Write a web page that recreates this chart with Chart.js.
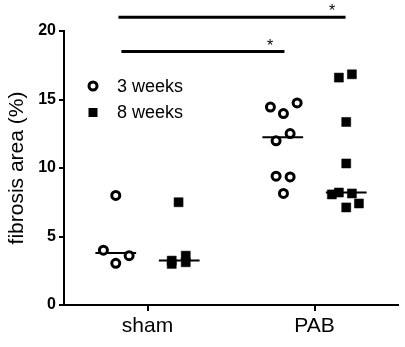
<!DOCTYPE html>
<html>
<head>
<meta charset="utf-8">
<script src="https://cdn.jsdelivr.net/npm/chart.js@4"></script>
<style>
  html, body { margin: 0; padding: 0; background: #fff; }
  #wrap { width: 405px; height: 347px; }
</style>
</head>
<body>
<div id="wrap"><canvas id="chart"></canvas></div>
<script>
// groups on the x axis
const categories = ['sham', 'PAB'];
const seriesNames = ['3 weeks', '8 weeks'];
const yTicks = [0, 5, 10, 15, 20];

// fibrosis area (%) per animal
const sham3w = [8.0, 4.0, 3.04, 3.6];
const sham8w = [7.5, 3.24, 3.0, 3.6, 3.12];
const pab3w = [14.45, 13.97, 14.75, 12.51, 11.98, 9.4, 9.35, 8.14];
const pab8w = [16.6, 16.84, 13.36, 10.33, 8.07, 8.21, 8.14, 7.12, 7.41];

// horizontal scatter of each point around its group (category units)
const sham3wJitter = [-0.19, -0.264, -0.19, -0.11];
const sham8wJitter = [0.186, 0.145, 0.145, 0.229, 0.229];
const pab3wJitter = [-0.264, -0.186, -0.104, -0.146, -0.23, -0.23, -0.146, -0.186];
const pab8wJitter = [0.146, 0.224, 0.19, 0.19, 0.104, 0.146, 0.224, 0.19, 0.266];

// significance brackets
const sigFrom = [0.826, 0.844];
const sigTo = [2.186, 1.82];
const sigLevel = [21.0, 18.5];
const sigStarX = [2.106, 1.734];
const sigText = ['*', '*'];

const groupShift = [-0.19, 0.19];
const medianHalf = 0.122;

function median(arr) {
  const s = arr.slice().sort((a, b) => a - b);
  const m = Math.floor(s.length / 2);
  return s.length % 2 ? s[m] : (s[m - 1] + s[m]) / 2;
}
function toPoints(values, jitter, cat) {
  return values.map((v, i) => ({ x: cat + 1 + jitter[i], y: v }));
}
function medianLine(values, cat, s) {
  const m = median(values);
  const c = cat + 1 + groupShift[s];
  return [{ x: c - medianHalf, y: m }, { x: c + medianHalf, y: m }];
}

const circleStyle = {
  pointStyle: 'circle', pointRadius: 4, pointBorderWidth: 3,
  pointBackgroundColor: '#fff', pointBorderColor: '#000',
  showLine: false, order: 0
};
const squareStyle = {
  pointStyle: 'rect', pointRadius: 6.4, pointBorderWidth: 0.5,
  pointBackgroundColor: '#000', pointBorderColor: '#000',
  showLine: false, order: 0
};
const lineStyle = {
  showLine: true, borderColor: '#000', borderWidth: 2, pointRadius: 0,
  order: 1, clip: false
};

const datasets = [
  Object.assign({ label: seriesNames[0], data: toPoints(sham3w, sham3wJitter, 0).concat(toPoints(pab3w, pab3wJitter, 1)) }, circleStyle),
  Object.assign({ label: seriesNames[1], data: toPoints(sham8w, sham8wJitter, 0).concat(toPoints(pab8w, pab8wJitter, 1)) }, squareStyle),
  Object.assign({ label: 'm1', data: medianLine(sham3w, 0, 0) }, lineStyle),
  Object.assign({ label: 'm2', data: medianLine(sham8w, 0, 1) }, lineStyle),
  Object.assign({ label: 'm3', data: medianLine(pab3w, 1, 0) }, lineStyle),
  Object.assign({ label: 'm4', data: medianLine(pab8w, 1, 1) }, lineStyle)
];
sigFrom.forEach((f, i) => {
  datasets.push(Object.assign({ label: 'sig' + i, data: [{ x: f, y: sigLevel[i] }, { x: sigTo[i], y: sigLevel[i] }] },
    lineStyle, { borderWidth: 3 }));
});

// stars above the brackets + legend drawn inside the plot
const extras = {
  id: 'extras',
  afterDatasetsDraw(chart) {
    const ctx = chart.ctx;
    const xs = chart.scales.x, ys = chart.scales.y;
    ctx.save();
    ctx.fillStyle = '#000';
    ctx.font = '16px "Liberation Sans", Arial, sans-serif';
    ctx.textAlign = 'center';
    ctx.textBaseline = 'alphabetic';
    sigText.forEach((t, i) => {
      ctx.fillText(t, xs.getPixelForValue(sigStarX[i]), ys.getPixelForValue(sigLevel[i]) - 1);
    });

    // legend
    const lx = chart.chartArea.left + 29, ly = chart.chartArea.top + 55;
    ctx.font = '18px "Liberation Sans", Arial, sans-serif';
    ctx.textAlign = 'left';
    ctx.textBaseline = 'middle';
    seriesNames.forEach((name, i) => {
      const y = ly + i * 26.5;
      ctx.lineWidth = 3;
      ctx.strokeStyle = '#000';
      if (i === 0) {
        ctx.beginPath();
        ctx.arc(lx, y, 4, 0, Math.PI * 2);
        ctx.fillStyle = '#fff';
        ctx.fill();
        ctx.stroke();
      } else {
        ctx.fillStyle = '#000';
        ctx.fillRect(lx - 4.5, y - 4.5, 9, 9);
      }
      ctx.fillStyle = '#000';
      ctx.fillText(name, lx + 24, y + 1);
    });
    ctx.restore();
  }
};

new Chart(document.getElementById('chart'), {
  type: 'scatter',
  data: { datasets: datasets },
  plugins: [extras],
  options: {
    responsive: true,
    maintainAspectRatio: false,
    animation: false,
    layout: { padding: { left: 0, top: 31, right: 7, bottom: 0 } },
    plugins: { legend: { display: false }, tooltip: { enabled: false } },
    scales: {
      x: {
        type: 'linear', min: 0.5, max: 2.5,
        afterBuildTicks: (s) => { s.ticks = categories.map((c, i) => ({ value: i + 1 })); },
        afterFit: (s) => { s.height = 42; },
        ticks: {
          callback: (v) => categories[v - 1],
          color: '#000', padding: 3,
          font: { family: '"Liberation Sans", Arial, sans-serif', size: 21 }
        },
        grid: { drawOnChartArea: false, drawTicks: true, tickLength: 6, color: '#000', lineWidth: 2 },
        border: { color: '#000', width: 2 }
      },
      y: {
        min: 0, max: 20,
        afterBuildTicks: (s) => { s.ticks = yTicks.map(v => ({ value: v })); },
        afterFit: (s) => { s.width = 64; },
        ticks: {
          color: '#000', padding: 3,
          font: { family: '"Liberation Sans", Arial, sans-serif', size: 16, weight: 'bold' }
        },
        grid: { drawOnChartArea: false, drawTicks: true, tickLength: 5, color: '#000', lineWidth: 2 },
        border: { color: '#000', width: 2 },
        title: {
          display: true, text: 'fibrosis area (%)', color: '#000',
          padding: { top: 5, bottom: 0 },
          font: { family: '"Liberation Sans", Arial, sans-serif', size: 21 }
        }
      }
    }
  }
});
</script>
</body>
</html>
